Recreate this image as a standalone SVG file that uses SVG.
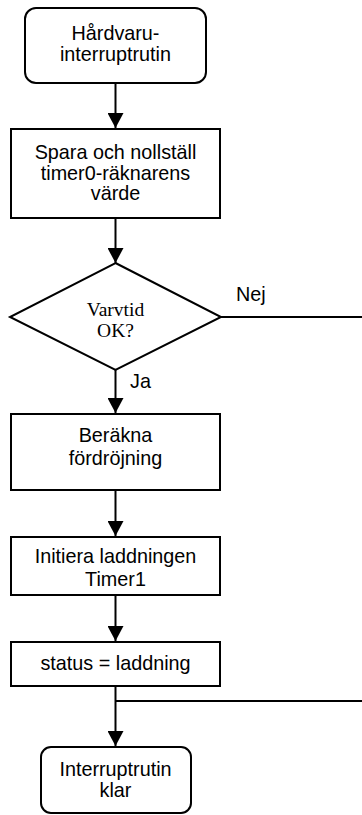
<svg xmlns="http://www.w3.org/2000/svg" width="362" height="815" viewBox="0 0 362 815">
<style>
.box{fill:#fff;stroke:#000;stroke-width:2}
.t{font-family:"Liberation Sans",Arial,sans-serif;font-size:19.8px;fill:#000;text-anchor:middle}
.s{font-family:"Liberation Serif","Times New Roman",serif;font-size:19.5px;fill:#000;text-anchor:middle}
.c{fill:none;stroke:#000;stroke-width:2}
</style>
<defs>
<marker id="ah" markerUnits="userSpaceOnUse" markerWidth="16" markerHeight="16" viewBox="0 0 15 16" refX="15" refY="8" orient="auto">
<path d="M0,0 L15,8 L0,16 Z" fill="#000"/>
</marker>
</defs>
<rect width="362" height="815" fill="#fff"/>
<g id="connectors">
<line class="c" x1="115.5" y1="83" x2="115.5" y2="128" marker-end="url(#ah)"/>
<line class="c" x1="115.5" y1="218" x2="115.5" y2="263" marker-end="url(#ah)"/>
<line class="c" x1="221" y1="317" x2="362" y2="317"/>
<line class="c" x1="115.5" y1="370" x2="115.5" y2="413" marker-end="url(#ah)"/>
<line class="c" x1="115.5" y1="491" x2="115.5" y2="536" marker-end="url(#ah)"/>
<line class="c" x1="115.5" y1="596" x2="115.5" y2="641" marker-end="url(#ah)"/>
<line class="c" x1="115.5" y1="687" x2="115.5" y2="746" marker-end="url(#ah)"/>
<line class="c" x1="115.5" y1="701" x2="362" y2="701"/>
<text class="t" x="236" y="301" style="text-anchor:start">Nej</text>
<text class="t" x="130" y="388" style="text-anchor:start">Ja</text>
</g>
<g id="start">
<rect class="box" x="25" y="8" width="181" height="75" rx="11"/>
<text class="t" x="115.5" y="40">Hårdvaru-</text>
<text class="t" x="115.5" y="61">interruptrutin</text>
</g>
<g id="spara">
<rect class="box" x="11" y="129" width="209" height="89"/>
<text class="t" x="115.5" y="159">Spara och nollställ</text>
<text class="t" x="115.5" y="180">timer0-räknarens</text>
<text class="t" x="115.5" y="200">värde</text>
</g>
<g id="varvtid">
<polygon class="box" points="115.5,263 221,317 115.5,370 10,317"/>
<text class="s" x="115.5" y="316">Varvtid</text>
<text class="s" x="115.5" y="337">OK?</text>
</g>
<g id="berakna">
<rect class="box" x="11" y="414" width="209" height="76"/>
<text class="t" x="115.5" y="442">Beräkna</text>
<text class="t" x="115.5" y="465">fördröjning</text>
</g>
<g id="initiera">
<rect class="box" x="11" y="537" width="209" height="58"/>
<text class="t" x="115.5" y="563">Initiera laddningen</text>
<text class="t" x="115.5" y="586">Timer1</text>
</g>
<g id="status">
<rect class="box" x="11" y="642" width="209" height="44"/>
<text class="t" x="115.5" y="670">status = laddning</text>
</g>
<g id="end">
<rect class="box" x="41" y="747" width="150" height="66" rx="10"/>
<text class="t" x="115.5" y="776">Interruptrutin</text>
<text class="t" x="115.5" y="797">klar</text>
</g>
</svg>
